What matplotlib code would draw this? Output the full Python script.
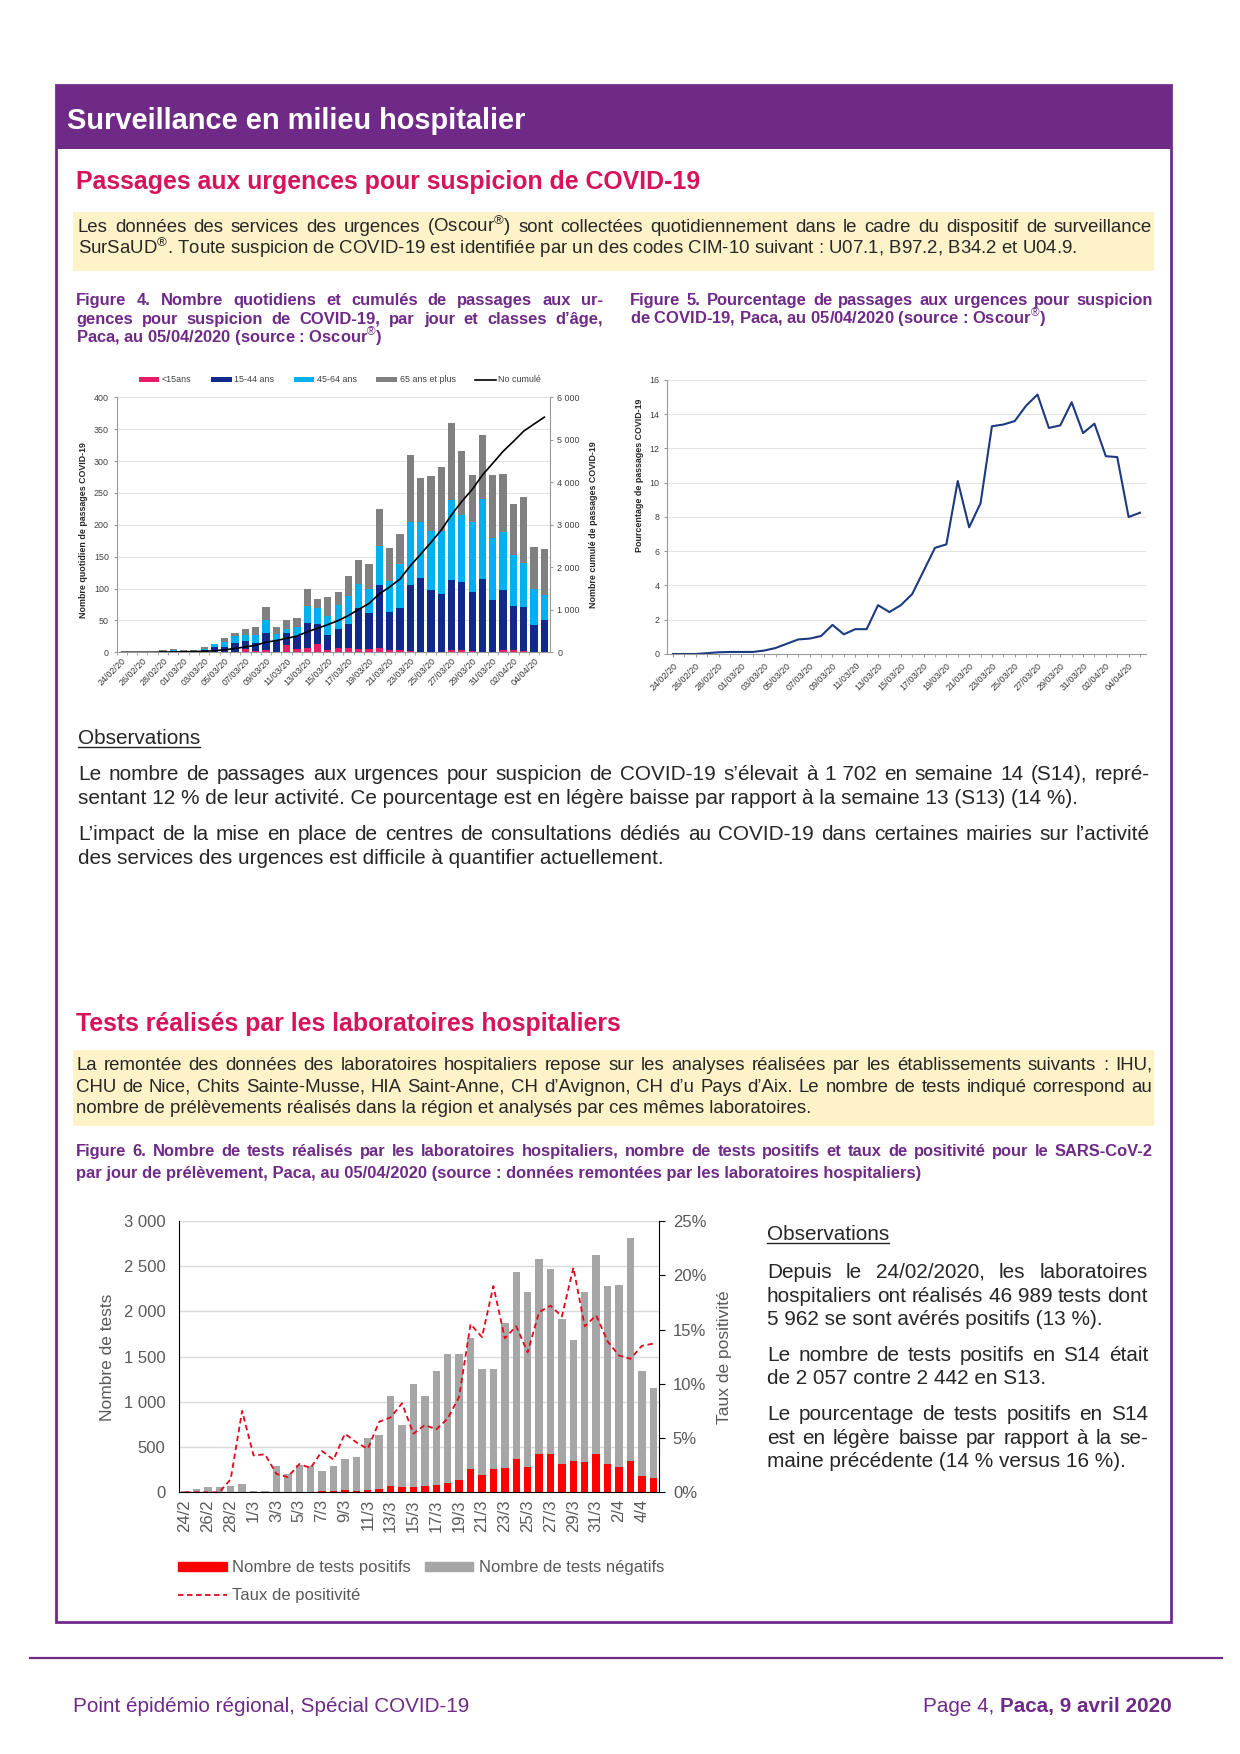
import numpy as np
import matplotlib.pyplot as plt
from matplotlib.patches import Rectangle, Patch
from matplotlib.lines import Line2D
from matplotlib.ticker import FuncFormatter

plt.rcParams['font.family'] = 'Liberation Sans'
plt.rcParams['mathtext.fontset'] = 'custom'
plt.rcParams['mathtext.rm'] = 'Liberation Sans'
plt.rcParams['mathtext.bf'] = 'Liberation Sans:bold'

# ---- Figure 4 : passages par classe d'age (24/02 -> 05/04)
age_u15 = [0, 0, 0, 0, 0, 0, 0, 0, 0, 0, 0, 1, 5, 2, 3, 1, 11, 5, 6, 13, 4,
           6, 6, 5, 5, 6, 4, 4, 2, 1, 1, 1, 4, 3, 2, 1, 1, 4, 3, 2, 1, 1]
age_15_44 = [1, 0, 0, 0, 2, 2, 2, 1, 3, 8, 8, 13, 13, 13, 28, 17, 19, 21, 40, 31, 23,
             31, 38, 64, 57, 100, 59, 65, 104, 116, 96, 91, 110, 107, 92, 114, 81, 94, 70, 69, 42, 49]
age_45_64 = [0, 0, 0, 0, 0, 1, 0, 1, 2, 5, 8, 11, 9, 12, 20, 10, 7, 14, 26, 25, 30,
             37, 45, 38, 38, 61, 49, 70, 98, 87, 93, 98, 125, 106, 111, 126, 98, 90, 79, 69, 57, 40]
age_65 = [0, 0, 0, 0, 1, 2, 1, 2, 3, 0, 6, 6, 9, 13, 20, 12, 14, 14, 27, 15, 30,
          21, 30, 38, 39, 58, 51, 47, 106, 70, 87, 101, 121, 100, 73, 100, 98, 92, 80, 104, 65, 72]
fig4_ticks = ['24/02/20', '26/02/20', '28/02/20', '01/03/20', '03/03/20', '05/03/20', '07/03/20',
              '09/03/20', '11/03/20', '13/03/20', '15/03/20', '17/03/20', '19/03/20', '21/03/20',
              '23/03/20', '25/03/20', '27/03/20', '29/03/20', '31/03/20', '02/04/20', '04/04/20']

# ---- Figure 5 : pourcentage de passages COVID-19
pct_covid = [0, 0, 0, 0.05, 0.1, 0.12, 0.12, 0.12, 0.2, 0.35, 0.6, 0.85, 0.9, 1.05, 1.7,
             1.15, 1.45, 1.45, 2.85, 2.45, 2.85, 3.5, 4.85, 6.2, 6.4, 10.1, 7.4, 8.8, 13.3,
             13.4, 13.6, 14.5, 15.15, 13.2, 13.35, 14.7, 12.9, 13.45, 11.55, 11.5, 8.0, 8.25]

# ---- Figure 6 : tests des laboratoires hospitaliers
tests_pos = [0, 0, 0, 0, 1, 7, 1, 1, 5, 3, 8, 6, 9, 9, 20, 18, 24, 38, 70, 58, 60,
             65, 78, 102, 132, 262, 195, 255, 268, 372, 282, 425, 422, 311, 342, 337, 425, 315, 285, 344, 178, 155]
tests_neg = [15, 41, 56, 59, 66, 89, 18, 18, 288, 201, 292, 284, 224, 287, 343, 367, 572, 592, 993, 681, 1134,
             999, 1263, 1428, 1398, 1445, 1172, 1105, 1609, 2059, 1935, 2150, 2050, 1610, 1339, 1876, 2198,
             1965, 2006, 2468, 1167, 998]
taux_pos = [0, 0, 0, 0, 1.2, 7.5, 3.4, 3.5, 1.7, 1.4, 2.6, 2.25, 3.8, 3.0, 5.4, 4.6, 4.0, 6.5, 6.9, 8.2, 5.4,
            6.2, 5.8, 6.8, 8.8, 15.5, 14.3, 19.0, 14.2, 15.3, 12.9, 16.6, 17.2, 16.2, 20.7, 15.3, 16.3,
            13.9, 12.6, 12.3, 13.5, 13.7]
fig6_ticks = ['24/2', '26/2', '28/2', '1/3', '3/3', '5/3', '7/3', '9/3', '11/3', '13/3', '15/3',
              '17/3', '19/3', '21/3', '23/3', '25/3', '27/3', '29/3', '31/3', '2/4', '4/4']

PURPLE = '#6f2a87'
CRIMSON = '#d7135b'
YELLOW = '#fef3c8'
TXT = '#262626'

W, H = 1240, 1754
fig = plt.figure(figsize=(W / 100, H / 100), dpi=100)
R = fig.canvas.get_renderer()


def fx(x):
    return x / W


def fy(y):
    return 1 - y / H


def width_of(s, size, **kw):
    t = fig.text(0, 0, s, size=size, **kw)
    w = t.get_window_extent(R).width
    t.remove()
    return w


def fit(s, target, **kw):
    return 10 * target / width_of(s, 10, **kw)


def put(x, y, s, size, **kw):
    return fig.text(fx(x), fy(y), s, size=size, va='baseline', **kw)


def para(x0, x1, y0, lead, lines, size, **kw):
    # justified lines, the last one left aligned
    for k, line in enumerate(lines):
        y = y0 + k * lead
        words = line.split(' ')
        if k == len(lines) - 1:
            put(x0, y, line, size, **kw)
            continue
        ws = [width_of(w, size, **kw) for w in words]
        gap = (x1 - x0 - sum(ws)) / (len(words) - 1)
        x = x0
        for w, ww in zip(words, ws):
            put(x, y, w, size, **kw)
            x += ww + gap


def rect(x0, y0, x1, y1, **kw):
    fig.add_artist(Rectangle((fx(x0), fy(y1)), (x1 - x0) / W, (y1 - y0) / H,
                             transform=fig.transFigure, **kw))


def underlined(x, y, s, size, **kw):
    t = put(x, y, s, size, **kw)
    w = t.get_window_extent(R).width
    fig.add_artist(Line2D([fx(x), fx(x + w)], [fy(y + 3), fy(y + 3)], color=kw.get('color', TXT),
                          lw=1, transform=fig.transFigure))


# ---- page frame
rect(56, 85, 1171, 149, facecolor=PURPLE, edgecolor='none')
rect(56, 85, 1171, 1622, facecolor='none', edgecolor=PURPLE, lw=2)
fig.add_artist(Line2D([fx(30), fx(1222)], [fy(1658), fy(1658)], color=PURPLE, lw=1.6,
                      transform=fig.transFigure))

s = fit('Surveillance en milieu hospitalier', 460, weight='bold')
put(67, 129, 'Surveillance en milieu hospitalier', s, color='white', weight='bold')

st = fit('Passages aux urgences pour suspicion de COVID-19', 625, weight='bold')
put(76, 189, 'Passages aux urgences pour suspicion de COVID-19', st, color=CRIMSON, weight='bold')
put(76, 1031, 'Tests réalisés par les laboratoires hospitaliers', st, color=CRIMSON, weight='bold')

# ---- encadres jaunes
yellow1 = ['Les données des services des urgences (Oscour$^{®}$) sont collectées quotidiennement dans le cadre du dispositif de surveillance',
           'SurSaUD$^{®}$. Toute suspicion de COVID-19 est identifiée par un des codes CIM-10 suivant : U07.1, B97.2, B34.2 et U04.9.']
yellow2 = ['La remontée des données des laboratoires hospitaliers repose sur les analyses réalisées par les établissements suivants : IHU,',
           'CHU de Nice, Chits Sainte-Musse, HIA Saint-Anne, CH d’Avignon, CH d’u Pays d’Aix. Le nombre de tests indiqué correspond au',
           'nombre de prélèvements réalisés dans la région et analysés par ces mêmes laboratoires.']
sy = fit(yellow1[-1], 1002)
rect(73, 212, 1154, 271, facecolor=YELLOW, edgecolor='none')
para(78, 1152, 232, 22, yellow1, sy, color=TXT)
rect(73, 1050, 1154, 1126, facecolor=YELLOW, edgecolor='none')
para(76, 1152, 1070, 21.5, yellow2, sy, color=TXT)

# ---- legendes des figures
cap4 = ['Figure 4. Nombre quotidiens et cumulés de passages aux ur-',
        'gences pour suspicion de COVID-19, par jour et classes d’âge,',
        'Paca, au 05/04/2020 (source : Oscour$^{®}$)']
cap5 = ['Figure 5. Pourcentage de passages aux urgences pour suspicion',
        'de COVID-19, Paca, au 05/04/2020 (source : Oscour$^{®}$)']
cap6 = ['Figure 6. Nombre de tests réalisés par les laboratoires hospitaliers, nombre de tests positifs et taux de positivité pour le SARS-CoV-2',
        'par jour de prélèvement, Paca, au 05/04/2020 (source : données remontées par les laboratoires hospitaliers)']
sc = fit(cap6[-1], 849, weight='bold')
para(76, 603, 305, 19, cap4, sc, color=PURPLE, weight='bold')
para(630, 1153, 305, 19, cap5, sc, color=PURPLE, weight='bold')
para(76, 1153, 1156, 22, cap6, sc, color=PURPLE, weight='bold')

# ---- observations
obs1a = ['Le nombre de passages aux urgences pour suspicion de COVID-19 s’élevait à 1\u00a0702 en semaine 14 (S14), repré-',
         'sentant 12\u00a0% de leur activité. Ce pourcentage est en légère baisse par rapport à la semaine 13 (S13) (14\u00a0%).']
obs1b = ['L’impact de la mise en place de centres de consultations dédiés au COVID-19 dans certaines mairies sur l’activité',
         'des services des urgences est difficile à quantifier actuellement.']
so = fit(obs1b[-1], 587)
underlined(78, 744, 'Observations', so, color=TXT)
para(78, 1150, 780, 24.5, obs1a, so, color=TXT)
para(78, 1150, 840, 24.5, obs1b, so, color=TXT)

obs2 = [['Depuis le 24/02/2020, les laboratoires', 'hospitaliers ont réalisés 46\u00a0989 tests dont',
         '5\u00a0962 se sont avérés positifs (13\u00a0%).'],
        ['Le nombre de tests positifs en S14 était', 'de 2\u00a0057 contre 2\u00a0442 en S13.'],
        ['Le pourcentage de tests positifs en S14', 'est en légère baisse par rapport à la se-',
         'maine précédente (14\u00a0% versus 16\u00a0%).']]
underlined(767, 1240, 'Observations', so, color=TXT)
for lines, y0 in zip(obs2, [1278, 1361, 1420]):
    para(767, 1148, y0, 23.5, lines, so, color=TXT)

# ---- pied de page
sf = fit('Point épidémio régional, Spécial COVID-19', 397)
put(73, 1712, 'Point épidémio régional, Spécial COVID-19', sf, color=PURPLE)
t = put(1172, 1712, 'Paca, 9 avril 2020', sf, color=PURPLE, weight='bold', ha='right')
wb = t.get_window_extent(R).width
put(1172 - wb, 1712, 'Page 4, ', sf, color=PURPLE, ha='right')

x = np.arange(len(age_u15))
small = 6.4

# ---- Figure 4
ax4 = fig.add_axes([fx(116.5), fy(652.3), (549.5 - 116.5) / W, (652.3 - 397.3) / H])
bottom = np.zeros(len(x))
bars = []
for vals, col, lab in [(age_u15, '#ec1b6a', '<15ans'), (age_15_44, '#10298a', '15-44 ans'),
                       (age_45_64, '#00b0f0', '45-64 ans'), (age_65, '#808080', '65 ans et plus')]:
    bars.append(ax4.bar(x, vals, 0.7, bottom=bottom, color=col, label=lab, zorder=2))
    bottom = bottom + np.array(vals)
ax4.set_xlim(-0.5, 41.5)
ax4.set_ylim(0, 400)
ax4.set_yticks(range(0, 401, 50))
ax4.grid(axis='y', color='#dddddd', lw=0.6, zorder=0)
ax4.set_xticks(x[::2])
ax4.set_xticklabels(fig4_ticks, rotation=45, ha='right', rotation_mode='anchor')
ax4.set_xticks(x - 0.5, minor=True)
ax4.tick_params(axis='x', which='major', length=0, labelsize=small, labelcolor='#333333', pad=3)
ax4.tick_params(axis='x', which='minor', length=2, color='#999999')
ax4.tick_params(axis='y', labelsize=small, labelcolor='#404040', length=2, color='#999999')
for side in ['top', 'right']:
    ax4.spines[side].set_visible(False)
for side in ['left', 'bottom']:
    ax4.spines[side].set_color('#999999')
ax4r = ax4.twinx()
cumul, = ax4r.plot(x, np.cumsum(bottom), color='black', lw=1.2, label='No cumulé')
ax4r.set_ylim(0, 6000)
ax4r.set_yticks(range(0, 6001, 1000))
ax4r.yaxis.set_major_formatter(FuncFormatter(lambda v, p: f'{int(v):,}'.replace(',', '\u00a0')))
ax4r.tick_params(axis='y', labelsize=small, labelcolor='#404040', length=2, color='#999999')
for side in ['top', 'left', 'bottom']:
    ax4r.spines[side].set_visible(False)
ax4r.spines['right'].set_color('#999999')
fig.text(fx(83), fy(530), 'Nombre quotidien de passages COVID-19', rotation=90, size=small,
         weight='bold', ha='center', va='center', color='#262626')
fig.text(fx(593), fy(525), 'Nombre cumulé de passages COVID-19', rotation=90, size=small,
         weight='bold', ha='center', va='center', color='#262626')
fig.legend(bars + [cumul], ['<15ans', '15-44 ans', '45-64 ans', '65 ans et plus', 'No cumulé'],
           loc='center', bbox_to_anchor=(fx(340), fy(380)), ncol=5, frameon=False, fontsize=small,
           handlelength=2.3, handleheight=0.5, columnspacing=2.2, handletextpad=0.3,
           labelcolor='#404040')

# ---- Figure 5
ax5 = fig.add_axes([fx(667.3), fy(654), (1145.7 - 667.3) / W, (654 - 380) / H])
ax5.plot(x, pct_covid, color='#1c3a80', lw=1.5)
ax5.set_xlim(-0.5, 41.5)
ax5.set_ylim(0, 16)
ax5.set_yticks(range(0, 17, 2))
ax5.grid(axis='y', color='#dddddd', lw=0.6)
ax5.set_xticks(x[::2])
ax5.set_xticklabels(fig4_ticks, rotation=45, ha='right', rotation_mode='anchor')
ax5.set_xticks(x, minor=True)
ax5.tick_params(axis='x', which='major', length=2, color='#999999', labelsize=small,
                labelcolor='#333333', pad=3)
ax5.tick_params(axis='x', which='minor', length=2, color='#999999')
ax5.tick_params(axis='y', labelsize=small, labelcolor='#404040', length=2, color='#999999')
for side in ['top', 'right']:
    ax5.spines[side].set_visible(False)
for side in ['left', 'bottom']:
    ax5.spines[side].set_color('#999999')
fig.text(fx(640), fy(475), 'Pourcentage de passages COVID-19', rotation=90, size=small,
         weight='bold', ha='center', va='center', color='#262626')

# ---- Figure 6
grey = '#595959'
fs6 = 12
ax6 = fig.add_axes([fx(179.3), fy(1492.3), (659 - 179.3) / W, (1492.3 - 1221) / H])
ax6.bar(x, tests_pos, 0.65, color='#ff0000', zorder=2)
ax6.bar(x, tests_neg, 0.65, bottom=tests_pos, color='#a6a6a6', zorder=2)
ax6.set_xlim(-0.5, 41.5)
ax6.set_ylim(0, 3000)
ax6.set_yticks(range(0, 3001, 500))
ax6.yaxis.set_major_formatter(FuncFormatter(lambda v, p: f'{int(v):,}'.replace(',', '\u00a0')))
ax6.grid(axis='y', color='#d9d9d9', lw=1, zorder=0)
ax6.set_xticks(x[::2])
ax6.set_xticklabels(fig6_ticks, rotation=90, ha='center', va='top')
ax6.tick_params(axis='x', length=0, labelsize=fs6, labelcolor=grey, pad=5)
ax6.tick_params(axis='y', length=0, labelsize=fs6, labelcolor=grey, pad=10)
ax6.spines['top'].set_visible(False)
ax6.spines['right'].set_visible(False)
for side in ['left', 'bottom']:
    ax6.spines[side].set_color('black')
ax6r = ax6.twinx()
ax6r.plot(x, taux_pos, color='#e3061a', lw=1.3, ls=(0, (3, 2)))
ax6r.set_ylim(0, 25)
ax6r.set_yticks(range(0, 26, 5))
ax6r.yaxis.set_major_formatter(FuncFormatter(lambda v, p: f'{int(v)}%'))
ax6r.tick_params(axis='y', length=4, direction='out', color='black', labelsize=fs6,
                 labelcolor=grey, pad=6)
for side in ['top', 'left', 'bottom']:
    ax6r.spines[side].set_visible(False)
ax6r.spines['right'].set_color('black')
fig.text(fx(107), fy(1357), 'Nombre de tests', rotation=90, size=12.5, ha='center',
         va='center', color=grey)
fig.text(fx(724), fy(1357), 'Taux de positivité', rotation=90, size=12.5, ha='center',
         va='center', color=grey)
h6 = [Patch(color='#ff0000'), Line2D([], [], color='#e3061a', lw=1.3, ls=(0, (3, 2))),
      Patch(color='#a6a6a6')]
fig.legend(h6, ['Nombre de tests positifs', 'Taux de positivité', 'Nombre de tests négatifs'],
           loc='upper left', bbox_to_anchor=(fx(170), fy(1552)), ncol=2, frameon=False,
           fontsize=fs6, handlelength=2.9, handleheight=0.5, columnspacing=0.8,
           labelspacing=0.75, handletextpad=0.35, labelcolor=grey, borderpad=0)

fig.savefig('out.png', dpi=100)
